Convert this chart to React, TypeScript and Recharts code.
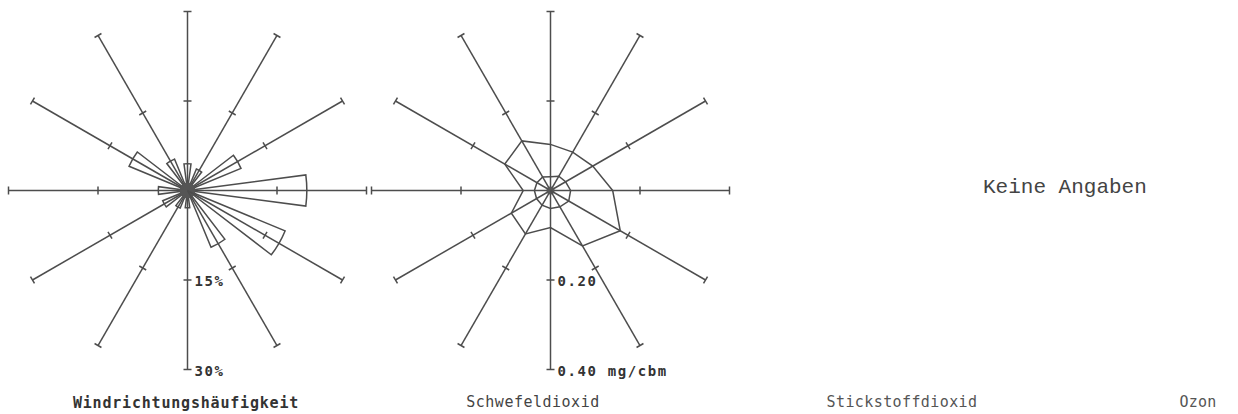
import React from "react";
import {
  RadialBarChart, RadialBar, RadarChart, Radar,
  PolarAngleAxis, PolarRadiusAxis,
} from "recharts";

// directions, counter-clockwise from east (deg)
const DIR_ANGLES = [0, 30, 60, 90, 120, 150, 180, 210, 240, 270, 300, 330];

// wind direction frequency (%)
const WIND_FREQ = [20.0, 9.7, 3.9, 4.5, 5.7, 10.6, 4.9, 4.5, 3.2, 2.9, 10.3, 17.7];

// sulphur dioxide (mg/cbm) per direction
const SO2_HIGH = [0.139, 0.109, 0.099, 0.103, 0.128, 0.118, 0.061, 0.101, 0.112, 0.083, 0.143, 0.180];
const SO2_LOW = [0.045, 0.039, 0.037, 0.031, 0.035, 0.035, 0.036, 0.036, 0.038, 0.040, 0.042, 0.047];

const WIND_TICKS = [0, 15, 30];
const WIND_TICK_LABELS = ["", "15%", "30%"];
const SO2_TICKS = [0, 0.2, 0.4];
const SO2_TICK_LABELS = ["", "0.20", "0.40 mg/cbm"];

const TITLES = ["Windrichtungshäufigkeit", "Schwefeldioxid", "Stickstoffdioxid", "Ozon"];
const NO_DATA = "Keine Angaben";

const INK = "#4d4d4d";
const LINE_W = 1.5;
const OUTER_R = 179;
const MONO = "'DejaVu Sans Mono', monospace";

const windData = DIR_ANGLES.map((angle, i) => ({ angle, freq: WIND_FREQ[i] }));
const so2Data = DIR_ANGLES.map((angle, i) => ({ angle, high: SO2_HIGH[i], low: SO2_LOW[i] }));

// tick mark across the spoke; the downward spoke also carries the labels
// and the hub blob (walked back from its last tick to the centre)
function spokeTick(angle: number, ticks: number[], labels: string[] | null, hub: number) {
  return (props: any) => {
    const { x, y, payload } = props;
    const idx = ticks.indexOf(payload?.value);
    if (idx <= 0) return <g />;
    const rad = (angle * Math.PI) / 180;
    const sx = Math.sin(rad) * 4;
    const sy = Math.cos(rad) * 4;
    const showHub = labels != null && hub > 0 && idx === ticks.length - 1;
    return (
      <g>
        {showHub && (
          <circle cx={x - Math.cos(rad) * OUTER_R} cy={y + Math.sin(rad) * OUTER_R} r={hub} fill="#555" />
        )}
        <line x1={x - sx} y1={y - sy} x2={x + sx} y2={y + sy} stroke={INK} strokeWidth={LINE_W} />
        {labels && (
          <text x={x + 7} y={y + 6} fontFamily={MONO} fontSize={14} letterSpacing={1.6} fill="#333" fontWeight="bold">
            {labels[idx]}
          </text>
        )}
      </g>
    );
  };
}

function spokes(domain: [number, number], ticks: number[], labels: string[], hub: number) {
  return DIR_ANGLES.map((a, i) => (
    <PolarRadiusAxis
      key={a}
      radiusAxisId={i}
      angle={a}
      type="number"
      domain={domain}
      ticks={ticks}
      allowDataOverflow
      axisLine={{ stroke: INK, strokeWidth: LINE_W }}
      tick={spokeTick(a, ticks, a === 270 ? labels : null, hub)}
    />
  ));
}

const margin = { top: 0, right: 0, bottom: 0, left: 0 };

export default function App() {
  return (
    <div style={{ position: "absolute", left: 0, top: 0, width: 1238, height: 414, background: "#fff" }}>
      {/* Wind rose */}
      <div style={{ position: "absolute", left: 0, top: 0 }}>
        <RadialBarChart
          width={375}
          height={414}
          cx={187.5}
          cy={190.5}
          innerRadius={0}
          outerRadius={OUTER_R}
          startAngle={0}
          endAngle={360}
          layout="centric"
          data={windData}
          margin={margin}
          barCategoryGap="25%"
        >
          <PolarAngleAxis type="number" dataKey="angle" domain={[0, 360]} ticks={DIR_ANGLES} tick={false} axisLine={false} tickLine={false} />
          {spokes([0, 30], WIND_TICKS, WIND_TICK_LABELS, 8)}
          <RadialBar
            dataKey="freq"
            radiusAxisId={0}
            fill="#fff"
            fillOpacity={0}
            stroke={INK}
            strokeWidth={LINE_W}
            isAnimationActive={false}
          />
        </RadialBarChart>
      </div>

      {/* Sulphur dioxide */}
      <div style={{ position: "absolute", left: 363, top: 0 }}>
        <RadarChart
          width={375}
          height={414}
          cx={187.5}
          cy={190.5}
          outerRadius={OUTER_R}
          startAngle={0}
          endAngle={360}
          data={so2Data}
          margin={margin}
        >
          <PolarAngleAxis type="number" dataKey="angle" domain={[0, 360]} ticks={DIR_ANGLES} tick={false} axisLine={false} tickLine={false} />
          {spokes([0, 0.4], SO2_TICKS, SO2_TICK_LABELS, 4)}
          <Radar dataKey="high" radiusAxisId={0} stroke={INK} strokeWidth={LINE_W} fill="none" dot={false} isAnimationActive={false} />
          <Radar dataKey="low" radiusAxisId={0} stroke={INK} strokeWidth={LINE_W} fill="none" dot={false} isAnimationActive={false} />
        </RadarChart>
      </div>

      <svg width={1238} height={414} style={{ position: "absolute", left: 0, top: 0, pointerEvents: "none" }}>
        <text x={983} y={193} fontFamily="'Liberation Mono', monospace" fontSize={21} fill="#444">{NO_DATA}</text>
        <text x={186} y={408} textAnchor="middle" fontFamily={MONO} fontSize={15} letterSpacing={0.8} fontWeight="bold" fill="#333">{TITLES[0]}</text>
        <text x={533} y={407} textAnchor="middle" fontFamily={MONO} fontSize={15} letterSpacing={0.5} fill="#444">{TITLES[1]}</text>
        <text x={902} y={407} textAnchor="middle" fontFamily={MONO} fontSize={15} letterSpacing={0.4} fill="#555">{TITLES[2]}</text>
        <text x={1198} y={407} textAnchor="middle" fontFamily={MONO} fontSize={15} letterSpacing={0.2} fill="#555">{TITLES[3]}</text>
      </svg>
    </div>
  );
}
